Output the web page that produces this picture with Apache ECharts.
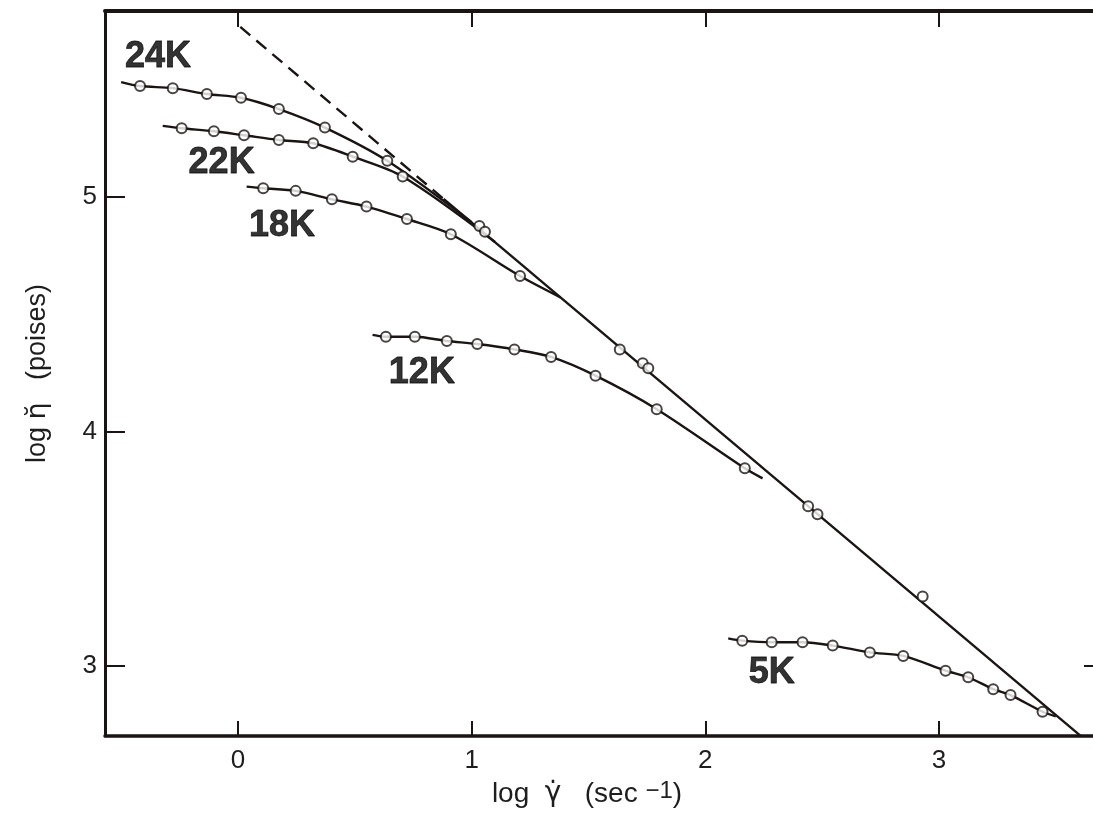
<!DOCTYPE html>
<html>
<head>
<meta charset="utf-8">
<script src="https://cdn.jsdelivr.net/npm/echarts@6/dist/echarts.min.js"></script>
<style>
html,body{margin:0;padding:0;background:#ffffff;}
#chart{width:1093px;height:837px;}
</style>
</head>
<body>
<div id="chart"></div>
<script>
// ---- tick values ----
const xTicks = [0, 1, 2, 3];
const yTicks = [3, 4, 5];
const rightTicks = [3];

// ---- measured points [log shear rate, log viscosity] ----
const k24Pts = [[-0.419,5.473],[-0.279,5.464],[-0.133,5.439],[0.013,5.423],[0.175,5.375],[0.372,5.296],[0.639,5.154]];
const k22Pts = [[-0.241,5.293],[-0.103,5.280],[0.026,5.263],[0.175,5.243],[0.322,5.229],[0.491,5.172],[0.705,5.087]];
const k18Pts = [[0.108,5.037],[0.247,5.026],[0.402,4.990],[0.550,4.959],[0.723,4.906],[0.911,4.841],[1.207,4.663]];
const k12Pts = [[0.633,4.404],[0.757,4.404],[0.894,4.386],[1.024,4.373],[1.183,4.350],[1.340,4.318],[1.530,4.238],[1.792,4.095],[2.169,3.843]];
const k5Pts  = [[2.158,3.108],[2.284,3.101],[2.416,3.101],[2.545,3.087],[2.704,3.058],[2.847,3.043],[3.028,2.980],[3.125,2.952],[3.232,2.901],[3.306,2.876],[3.443,2.805]];
const masterPts = [[1.033,4.876],[1.057,4.852],[1.634,4.350],[1.732,4.291],[1.756,4.270],[2.440,3.681],[2.480,3.647],[2.930,3.296]];

// ---- drawn curve ends ----
const k24Ends = [[-0.500,5.490],[1.000,4.892]];
const k22Ends = [[-0.322,5.303],[1.100,4.808]];
const k18Ends = [[0.037,5.044],[1.380,4.572]];
const k12Ends = [[0.576,4.412],[2.245,3.800]];
const k5Ends  = [[2.098,3.118],[3.500,2.785]];
const masterDashed = [[0.010,5.725],[0.880,4.992]];
const masterSolid  = [[0.880,4.992],[3.606,2.702]];

// ---- curve labels ----
const labelNames = ['24K','22K','18K','12K','5K'];
const labelX = [-0.342,-0.070,0.188,0.787,2.284];
const labelY = [5.595,5.144,4.878,4.250,2.969];

const ink = '#1b1414';
const tickFont = "'Liberation Sans', Arial, sans-serif";
const greekFont = "'DejaVu Sans', sans-serif";

function curve(ends, pts) {
  return {
    type: 'line',
    data: [ends[0]].concat(pts, [ends[1]]),
    smooth: 0.3,
    showSymbol: false,
    silent: true,
    lineStyle: { color: ink, width: 2.4 },
    z: 2
  };
}
function marks(pts) {
  return {
    type: 'scatter',
    data: pts,
    symbol: 'emptyCircle',
    symbolSize: 10,
    silent: true,
    itemStyle: { color: ink, borderColor: ink, borderWidth: 2 },
    z: 3
  };
}

const chart = echarts.init(document.getElementById('chart'), null, { renderer: 'canvas' });

const option = {
  backgroundColor: '#ffffff',
  animation: false,
  grid: { left: 105, right: 0, top: 11, bottom: 101, containLabel: false },
  xAxis: [
    {
      type: 'value', min: -0.569, max: 3.659, position: 'bottom',
      axisLine: { show: true, onZero: false, lineStyle: { color: ink, width: 3.5 } },
      axisTick: { show: true, inside: true, length: 15, customValues: xTicks, lineStyle: { color: ink, width: 2 } },
      axisLabel: { customValues: xTicks, fontSize: 26, color: '#1e1e1e', margin: 12, fontFamily: tickFont },
      splitLine: { show: false },
      name: 'log  {g|γ̇}   (sec {sup|−1})',
      nameLocation: 'middle', nameGap: 40,
      nameTextStyle: { fontSize: 28, color: '#1e1e1e', fontFamily: tickFont, padding: [0, 24, 0, 0],
        rich: {
          g: { fontSize: 28, color: '#1e1e1e', fontFamily: greekFont },
          sup: { fontSize: 24, color: '#1e1e1e', fontFamily: tickFont, padding: [0, 0, 6, 0] }
        } }
    },
    {
      type: 'value', min: -0.569, max: 3.659, position: 'top',
      axisLine: { show: true, onZero: false, lineStyle: { color: ink, width: 4 } },
      axisTick: { show: true, inside: true, length: 16, customValues: xTicks, lineStyle: { color: ink, width: 2 } },
      axisLabel: { show: false },
      splitLine: { show: false }
    }
  ],
  yAxis: [
    {
      type: 'value', min: 2.7015, max: 5.793, position: 'left',
      axisLine: { show: true, onZero: false, lineStyle: { color: ink, width: 3 } },
      axisTick: { show: true, inside: true, length: 20, customValues: yTicks, lineStyle: { color: ink, width: 2 } },
      axisLabel: { customValues: yTicks, fontSize: 26, color: '#1e1e1e', margin: 8, fontFamily: tickFont },
      splitLine: { show: false },
      name: 'log {e|η̆}   (poises)',
      nameLocation: 'middle', nameGap: 54, nameRotate: 90,
      nameTextStyle: { fontSize: 27, color: '#1e1e1e', fontFamily: tickFont,
        rich: { e: { fontSize: 27, color: '#1e1e1e', fontFamily: greekFont } } }
    },
    {
      type: 'value', min: 2.7015, max: 5.793, position: 'right',
      axisLine: { show: false, onZero: false },
      axisTick: { show: true, inside: true, length: 9, customValues: rightTicks, lineStyle: { color: ink, width: 2 } },
      axisLabel: { show: false },
      splitLine: { show: false }
    }
  ],
  series: [
    {
      type: 'line', data: masterDashed, showSymbol: false, silent: true,
      lineStyle: { color: ink, width: 2.4, type: [13, 8] }, z: 2
    },
    {
      type: 'line', data: masterSolid, showSymbol: false, silent: true,
      lineStyle: { color: ink, width: 2.4 }, z: 2
    },
    curve(k24Ends, k24Pts),
    curve(k22Ends, k22Pts),
    curve(k18Ends, k18Pts),
    curve(k12Ends, k12Pts),
    curve(k5Ends, k5Pts),
    marks(k24Pts), marks(k22Pts), marks(k18Pts), marks(k12Pts), marks(k5Pts), marks(masterPts),
    {
      type: 'scatter', symbolSize: 0, silent: true, z: 4,
      data: labelNames.map((n, i) => ({ name: n, value: [labelX[i], labelY[i]] })),
      label: { show: true, position: 'inside', formatter: '{b}', fontSize: 36, fontWeight: 'bold',
        color: '#000000', textBorderColor: '#000000', textBorderWidth: 0.8,
        fontFamily: "'Liberation Sans', Arial, sans-serif" }
    }
  ]
};
chart.setOption(option);
</script>
</body>
</html>
